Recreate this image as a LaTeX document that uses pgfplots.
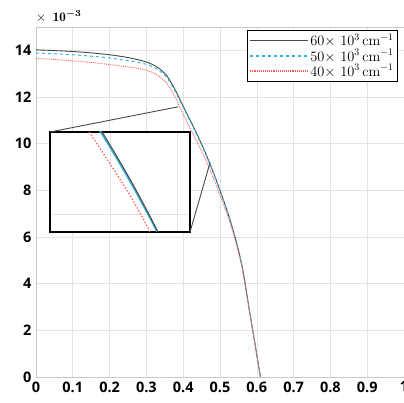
\documentclass[border=0pt]{standalone}
\usepackage{fontspec}
\usepackage{amsmath}
\usepackage{bm}
\usepackage{graphicx}
\usepackage{pgfplots}
\pgfplotsset{compat=1.18}
\newfontfamily\tickfont{Open Sans}

\definecolor{cblack}{HTML}{484848}
\definecolor{cblue}{HTML}{2DB4E8}
\definecolor{cred}{HTML}{FF5A5A}
\definecolor{cgrid}{HTML}{E4E4E4}
\definecolor{caxis}{HTML}{C8C8C8}

% J-V curves, current in units of 1e-3
\pgfplotstableread{
x y
0.00 14.02
0.05 13.99
0.10 13.95
0.15 13.89
0.20 13.81
0.25 13.69
0.30 13.50
0.33 13.27
0.355 12.92
0.38 12.25
0.40 11.60
0.42 10.97
0.44 10.32
0.46 9.62
0.48 8.85
0.50 8.00
0.52 7.10
0.54 6.05
0.56 4.75
0.58 2.85
0.60 0.95
0.61 0.00
}\dsixty

\pgfplotstableread{
x y
0.00 13.88
0.05 13.85
0.10 13.81
0.15 13.75
0.20 13.67
0.25 13.56
0.30 13.40
0.33 13.18
0.355 12.85
0.38 12.18
0.40 11.55
0.42 10.92
0.44 10.28
0.46 9.58
0.48 8.82
0.50 7.98
0.52 7.08
0.54 6.04
0.56 4.74
0.58 2.84
0.60 0.95
0.61 0.00
}\dfifty

\pgfplotstableread{
x y
0.00 13.65
0.05 13.61
0.10 13.55
0.15 13.48
0.20 13.39
0.25 13.29
0.30 13.15
0.33 12.93
0.355 12.60
0.38 11.95
0.40 11.25
0.42 10.62
0.44 10.00
0.46 9.35
0.48 8.60
0.50 7.80
0.52 6.95
0.54 5.95
0.56 4.68
0.58 2.82
0.60 0.94
0.61 0.00
}\dforty

\begin{document}
\begin{tikzpicture}
\begin{axis}[
    name=main,
    scale only axis,
    width=368pt, height=350pt,
    xmin=0, xmax=1, ymin=0, ymax=15,
    xtick={0,0.1,...,1.0},
    ytick={0,2,...,14},
    xticklabels={0,0.1,0.2,0.3,0.4,0.5,0.6,0.7,0.8,0.9,1},
    grid=major,
    grid style={cgrid, line width=0.6pt},
    axis line style={caxis, line width=0.8pt},
    major tick length=0pt,
    ticklabel style={font=\tickfont\bfseries\fontsize{14.5}{14.5}\selectfont},
    /pgf/number format/assume math mode=true,
    xticklabel style={yshift=-1pt},
    yticklabel style={xshift=-1pt},
    legend cell align=left,
    legend style={at={(rel axis cs:0.982,0.99)}, anchor=north east,
        font=\fontsize{14.4}{15}\selectfont,
        inner sep=1.5pt, row sep=-2pt},
    legend image code/.code={\draw[#1, line width=1.3pt] (0pt,0pt) -- (58pt,0pt);},
]
\addplot[color=cblack, line width=0.9pt, smooth] table {\dsixty};
\addlegendentry{$60{\times}\ 10^{3}\,\mathrm{cm}^{-1}$}
\addplot[color=cblue, line width=1pt, dashed, smooth] table {\dfifty};
\addlegendentry{$50{\times}\ 10^{3}\,\mathrm{cm}^{-1}$}
\addplot[color=cred, line width=0.9pt, densely dotted, smooth] table {\dforty};
\addlegendentry{$40{\times}\ 10^{3}\,\mathrm{cm}^{-1}$}
\coordinate (p1) at (axis cs:0.386,11.58);
\coordinate (p2) at (axis cs:0.473,9.19);
\end{axis}

\begin{axis}[
    name=inset,
    at={(14pt,145pt)}, anchor=south west,
    scale only axis,
    width=140pt, height=100pt,
    xmin=0.3912, xmax=0.508, ymin=8.8, ymax=10.5,
    xtick={0.4415,0.4977}, ytick={9.1},
    xticklabels={}, yticklabels={},
    grid=major,
    grid style={cgrid, line width=0.6pt},
    major tick length=0pt,
    axis line style={black, line width=1.3pt},
    axis background/.style={fill=white},
    clip=true,
]
\addplot[color=cred, line width=1.3pt, dotted, smooth] table {\dforty};
\addplot[color=cblue, line width=1.3pt, smooth] table {\dfifty};
\addplot[color=cblack, line width=1.1pt, smooth] table {\dsixty};
\end{axis}
\draw[cblack, line width=0.9pt] (inset.north west) -- (p1);
\draw[cblack, line width=0.9pt] (inset.south east) -- (p2);
\node[anchor=south west, inner sep=0pt]
    at ([yshift=4pt]main.north west)
    {\scalebox{1.3}{$\times\hspace{5pt}\mathbf{10}^{\bm{-3}}$}};
\pgfresetboundingbox
\path[use as bounding box] ([xshift=-36pt,yshift=-25pt]main.south west)
    rectangle ([yshift=27pt]main.north east);
\end{tikzpicture}
\end{document}
